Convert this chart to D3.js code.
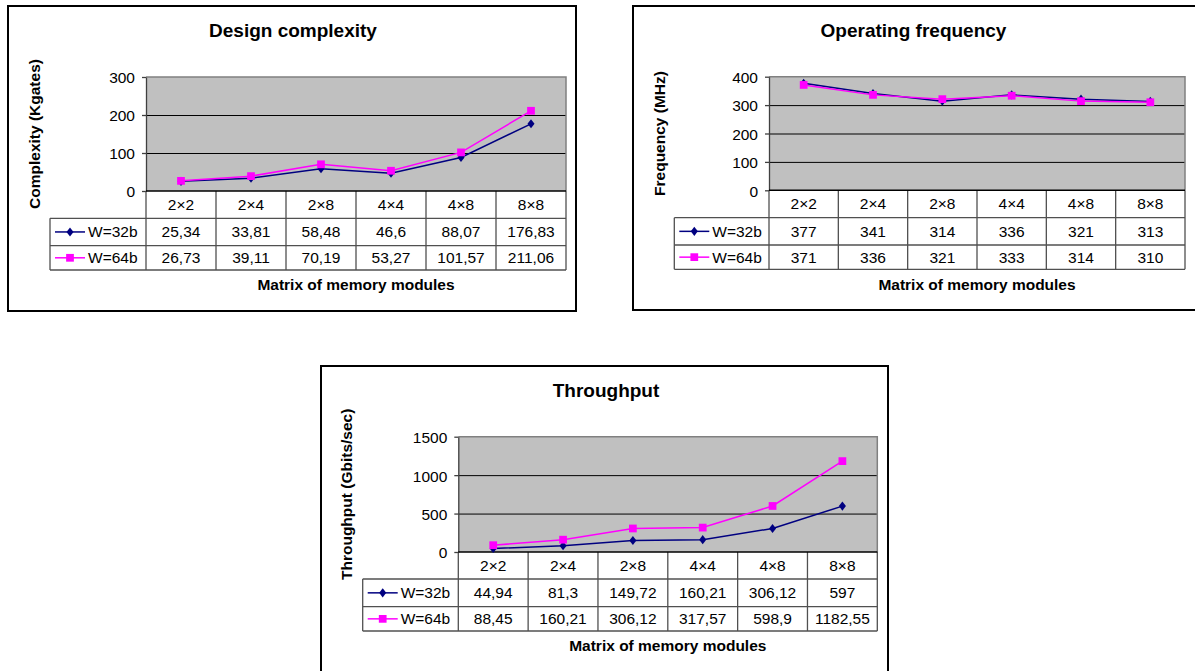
<!DOCTYPE html>
<html>
<head>
<meta charset="utf-8">
<script src="https://cdn.jsdelivr.net/npm/d3@7"></script>
<style>
  html, body { margin: 0; padding: 0; background: #fff; }
  svg { display: block; font-family: Arial, "Liberation Sans", sans-serif; }
</style>
</head>
<body>
<script>
// ---------- Data ----------
const categories = ["2×2", "2×4", "2×8", "4×4", "4×8", "8×8"];
const seriesNames = ["W=32b", "W=64b"];

const complexity32 = [25.34, 33.81, 58.48, 46.6, 88.07, 176.83];
const complexity64 = [26.73, 39.11, 70.19, 53.27, 101.57, 211.06];
const complexityTicks = [0, 100, 200, 300];

const frequency32 = [377, 341, 314, 336, 321, 313];
const frequency64 = [371, 336, 321, 333, 314, 310];
const frequencyTicks = [0, 100, 200, 300, 400];

const throughput32 = [44.94, 81.3, 149.72, 160.21, 306.12, 597];
const throughput64 = [88.45, 160.21, 306.12, 317.57, 598.9, 1182.55];
const throughputTicks = [0, 500, 1000, 1500];

const chartTitles = ["Design complexity", "Operating frequency", "Throughput"];
const yTitles = ["Complexity (Kgates)", "Frequency (MHz)", "Throughput (Gbits/sec)"];
const xTitle = "Matrix of memory modules";

// ---------- Drawing ----------
const fmt = v => String(v).replace(".", ",");
const colors = ["#000080", "#ff00ff"];

const svg = d3.select("body").append("svg")
  .attr("width", 1195).attr("height", 671);

function marker(sel, kind, cx, cy, color) {
  if (kind === 0) {
    sel.append("path")
      .attr("d", d3.symbol(d3.symbolDiamond2, 44)())
      .attr("transform", `translate(${cx},${cy}) scale(0.85,1.1)`)
      .attr("fill", color);
  } else {
    sel.append("path")
      .attr("d", d3.symbol(d3.symbolSquare, 60)())
      .attr("transform", `translate(${cx},${cy})`)
      .attr("fill", color);
  }
}

function drawChart(cfg) {
  const g = svg.append("g");
  const { box, plot, rows } = cfg;

  g.append("rect")
    .attr("x", box.x).attr("y", box.y).attr("width", box.w).attr("height", box.h)
    .attr("fill", "#fff").attr("stroke", "#000").attr("stroke-width", 2);

  const x = d3.scaleBand().domain(categories).range([plot.x0, plot.x1]);
  const bw = x.bandwidth();
  const y = d3.scaleLinear().domain([0, d3.max(cfg.ticks)]).range([plot.y1, plot.y0]);

  // plot background
  g.append("rect")
    .attr("x", plot.x0).attr("y", plot.y0)
    .attr("width", plot.x1 - plot.x0).attr("height", plot.y1 - plot.y0)
    .attr("fill", "#c0c0c0");

  // gridlines
  const grid = g.append("g").attr("transform", `translate(${plot.x0},0)`)
    .call(d3.axisLeft(y).tickValues(cfg.ticks.slice(1, -1))
      .tickSize(-(plot.x1 - plot.x0)).tickFormat(""));
  grid.select(".domain").remove();
  grid.selectAll("line").attr("stroke", "#000").attr("stroke-width", 1);

  // plot border top/right
  g.append("path")
    .attr("d", `M${plot.x0},${y(d3.max(cfg.ticks))}H${plot.x1}V${plot.y1}`)
    .attr("fill", "none").attr("stroke", "#808080").attr("stroke-width", 1.5);

  // y axis
  const ya = g.append("g").attr("transform", `translate(${plot.x0},0)`)
    .call(d3.axisLeft(y).tickValues(cfg.ticks).tickFormat(d3.format("d"))
      .tickSizeInner(4).tickSizeOuter(0).tickPadding(7));
  ya.select(".domain").attr("stroke", "#404040").attr("stroke-width", 1.3);
  ya.selectAll(".tick line").attr("stroke", "#404040").attr("stroke-width", 1.3);
  ya.selectAll("text").attr("font-size", 15.5).attr("font-family", "Arial, 'Liberation Sans', sans-serif")
    .attr("fill", "#000").attr("dy", "0.38em");

  // table
  const tc = "#505050";
  const tbl = g.append("g");
  categories.forEach((c, i) => {
    tbl.append("line").attr("x1", x(c)).attr("x2", x(c)).attr("y1", rows[0]).attr("y2", rows[3])
      .attr("stroke", tc).attr("stroke-width", 1.3);
  });
  tbl.append("line").attr("x1", plot.x1).attr("x2", plot.x1).attr("y1", rows[0]).attr("y2", rows[3])
    .attr("stroke", tc).attr("stroke-width", 1.3);
  tbl.append("line").attr("x1", cfg.legendLeft).attr("x2", cfg.legendLeft).attr("y1", rows[1]).attr("y2", rows[3])
    .attr("stroke", tc).attr("stroke-width", 1.3);
  [rows[1], rows[2], rows[3]].forEach(ry => {
    tbl.append("line").attr("x1", cfg.legendLeft).attr("x2", plot.x1).attr("y1", ry).attr("y2", ry)
      .attr("stroke", tc).attr("stroke-width", 1.3);
  });

  // header row
  categories.forEach(c => {
    tbl.append("text").attr("x", x(c) + bw / 2).attr("y", (rows[0] + rows[1]) / 2)
      .attr("dy", "0.35em").attr("text-anchor", "middle").attr("font-size", 15.5).text(c);
  });

  // series rows
  cfg.series.forEach((vals, si) => {
    const ry = (rows[si + 1] + rows[si + 2]) / 2;
    vals.forEach((v, i) => {
      tbl.append("text").attr("x", x(categories[i]) + bw / 2).attr("y", ry)
        .attr("dy", "0.35em").attr("text-anchor", "middle").attr("font-size", 15.5).text(fmt(v));
    });
    // legend key
    tbl.append("line").attr("x1", cfg.legendLeft + 5).attr("x2", cfg.legendLeft + 35)
      .attr("y1", ry).attr("y2", ry).attr("stroke", colors[si]).attr("stroke-width", 1.5);
    marker(tbl, si, cfg.legendLeft + 20, ry, colors[si]);
    tbl.append("text").attr("x", cfg.legendLeft + 38).attr("y", ry)
      .attr("dy", "0.35em").attr("font-size", 15.5).text(seriesNames[si]);
  });

  // x axis line (black at 0)
  g.append("line").attr("x1", plot.x0).attr("x2", plot.x1)
    .attr("y1", y(0)).attr("y2", y(0)).attr("stroke", "#000").attr("stroke-width", 1.5);

  // series lines and markers
  const line = d3.line().x((d, i) => x(categories[i]) + bw / 2).y(d => y(d));
  cfg.series.forEach((vals, si) => {
    g.append("path").datum(vals).attr("d", line)
      .attr("fill", "none").attr("stroke", colors[si]).attr("stroke-width", 1.5);
  });
  cfg.series.forEach((vals, si) => {
    vals.forEach((v, i) => marker(g, si, x(categories[i]) + bw / 2, y(v), colors[si]));
  });

  // titles
  g.append("text").attr("x", cfg.titleX).attr("y", cfg.titleY)
    .attr("text-anchor", "middle").attr("font-size", 19).attr("font-weight", "bold").text(cfg.title);
  g.append("text").attr("x", (plot.x0 + plot.x1) / 2).attr("y", cfg.xTitleY)
    .attr("text-anchor", "middle").attr("font-size", 15.5).attr("font-weight", "bold").text(xTitle);
  g.append("text")
    .attr("transform", `translate(${cfg.yTitleX},${(plot.y0 + plot.y1) / 2}) rotate(-90)`)
    .attr("text-anchor", "middle").attr("dy", "0.35em")
    .attr("font-size", 15.5).attr("font-weight", "bold").text(cfg.yTitle);
}

drawChart({
  box: { x: 8, y: 6, w: 568, h: 305 },
  plot: { x0: 146, x1: 566, y0: 77, y1: 191 },
  rows: [191, 218.3, 245.6, 270],
  legendLeft: 50,
  ticks: complexityTicks,
  series: [complexity32, complexity64],
  title: chartTitles[0], titleX: 293, titleY: 37,
  xTitleY: 290, yTitleX: 35, yTitle: yTitles[0]
});

drawChart({
  box: { x: 633, y: 6, w: 568, h: 304 },
  plot: { x0: 769, x1: 1185, y0: 76.7, y1: 190.3 },
  rows: [190.3, 217.7, 245, 269.3],
  legendLeft: 674.3,
  ticks: frequencyTicks,
  series: [frequency32, frequency64],
  title: chartTitles[1], titleX: 913.5, titleY: 37,
  xTitleY: 289.5, yTitleX: 660, yTitle: yTitles[1]
});

drawChart({
  box: { x: 321, y: 366, w: 567, h: 320 },
  plot: { x0: 458.3, x1: 877.3, y0: 436.7, y1: 552 },
  rows: [552, 579, 606.7, 631],
  legendLeft: 362.7,
  ticks: throughputTicks,
  series: [throughput32, throughput64],
  title: chartTitles[2], titleX: 606, titleY: 397,
  xTitleY: 651, yTitleX: 346.7, yTitle: yTitles[2]
});
</script>
</body>
</html>
